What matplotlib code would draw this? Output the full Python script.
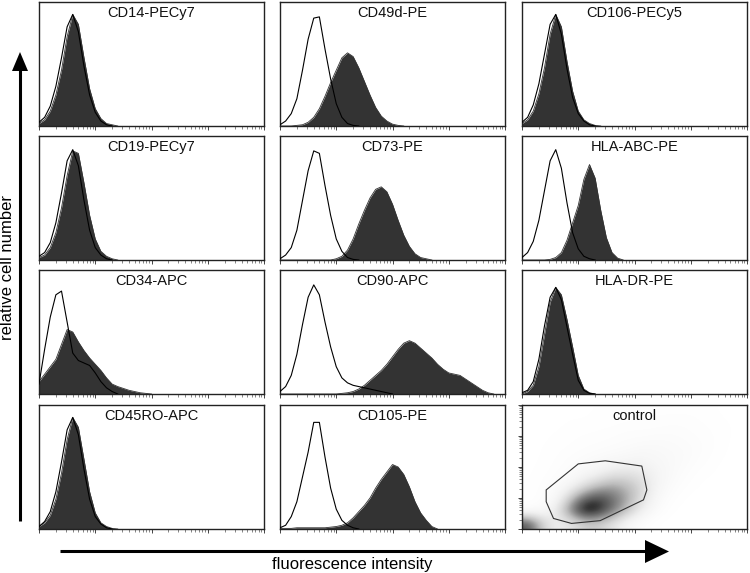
import numpy as np
import matplotlib
matplotlib.use("Agg")
import matplotlib.pyplot as plt
from matplotlib.patches import Polygon
from matplotlib.colors import PowerNorm

plt.rcParams['font.family'] = ['Liberation Sans', 'DejaVu Sans']

# ---------------- data ----------------
# sample positions on the log fluorescence axis (decades)
LOG_X = [0.0, 0.1, 0.2, 0.3, 0.4, 0.5, 0.6, 0.7, 0.8, 0.9,
         1.0, 1.1, 1.2, 1.3, 1.4, 1.5, 1.6, 1.7, 1.8, 1.9,
         2.0, 2.1, 2.2, 2.3, 2.4, 2.5, 2.6, 2.7, 2.8, 2.9,
         3.0, 3.1, 3.2, 3.3, 3.4, 3.5, 3.6, 3.7, 3.8, 3.9, 4.0]

titles = ["CD14-PECy7", "CD49d-PE", "CD106-PECy5",
          "CD19-PECy7", "CD73-PE", "HLA-ABC-PE",
          "CD34-APC", "CD90-APC", "HLA-DR-PE",
          "CD45RO-APC", "CD105-PE", "control"]

# relative cell number (fraction of panel height), stained (filled) and isotype (open)
cd14_stain = [0.02, 0.05, 0.12, 0.25, 0.45, 0.72, 0.90, 0.82, 0.55, 0.30, 0.14, 0.06, 0.02, 0.01, 0]
cd14_iso = [0.03, 0.07, 0.16, 0.32, 0.55, 0.80, 0.90, 0.76, 0.48, 0.25, 0.11, 0.04, 0.01, 0]

cd49d_stain = [0, 0, 0, 0.005, 0.01, 0.03, 0.07, 0.14, 0.24, 0.35, 0.45, 0.55, 0.59, 0.56, 0.47,
               0.36, 0.25, 0.15, 0.08, 0.04, 0.015, 0.005, 0]
cd49d_iso = [0.01, 0.04, 0.10, 0.22, 0.45, 0.70, 0.87, 0.88, 0.62, 0.38, 0.18, 0.07, 0.02, 0.005, 0]

cd106_stain = [0.02, 0.05, 0.12, 0.26, 0.47, 0.74, 0.90, 0.80, 0.52, 0.28, 0.12, 0.05, 0.02, 0.005, 0]
cd106_iso = [0.03, 0.07, 0.17, 0.34, 0.58, 0.82, 0.90, 0.74, 0.46, 0.23, 0.10, 0.04, 0.01, 0]

cd19_stain = [0.02, 0.04, 0.10, 0.22, 0.42, 0.68, 0.88, 0.86, 0.62, 0.36, 0.17, 0.07, 0.03, 0.01, 0]
cd19_iso = [0.03, 0.06, 0.14, 0.30, 0.54, 0.80, 0.89, 0.76, 0.48, 0.24, 0.10, 0.04, 0.01, 0]

cd73_stain = [0, 0, 0, 0, 0, 0, 0, 0, 0, 0, 0.01, 0.03, 0.08, 0.17, 0.29, 0.40, 0.50, 0.57, 0.59,
              0.55, 0.45, 0.32, 0.20, 0.11, 0.05, 0.02, 0.01, 0]
cd73_iso = [0.01, 0.04, 0.10, 0.24, 0.48, 0.72, 0.88, 0.86, 0.60, 0.36, 0.17, 0.07, 0.02, 0.005, 0]

hlaabc_stain = [0, 0, 0, 0, 0, 0.005, 0.02, 0.06, 0.16, 0.30, 0.44, 0.65, 0.77, 0.66, 0.40,
                0.18, 0.06, 0.015, 0]
hlaabc_iso = [0.02, 0.06, 0.15, 0.32, 0.56, 0.80, 0.89, 0.74, 0.46, 0.22, 0.09, 0.03, 0.01, 0]

cd34_stain = [0.10, 0.16, 0.22, 0.28, 0.40, 0.52, 0.50, 0.42, 0.35, 0.29, 0.24, 0.19, 0.13,
              0.08, 0.06, 0.045, 0.03, 0.02, 0.01, 0.005, 0]
cd34_iso = [0.08, 0.36, 0.62, 0.80, 0.83, 0.58, 0.33, 0.27, 0.25, 0.23, 0.17, 0.10, 0.05, 0.02, 0]

cd90_stain = [0, 0, 0, 0, 0, 0, 0, 0, 0, 0, 0, 0.005, 0.01, 0.02, 0.04, 0.07, 0.11, 0.15, 0.19,
              0.24, 0.30, 0.36, 0.41, 0.43, 0.41, 0.37, 0.33, 0.29, 0.24, 0.20, 0.17, 0.16, 0.15,
              0.12, 0.09, 0.06, 0.03, 0.01, 0]
cd90_iso = [0.02, 0.06, 0.15, 0.32, 0.56, 0.78, 0.88, 0.80, 0.58, 0.38, 0.22, 0.13, 0.09, 0.07,
            0.06, 0.05, 0.04, 0.03, 0.02, 0.01, 0]

hladr_stain = [0, 0.02, 0.07, 0.22, 0.48, 0.74, 0.86, 0.80, 0.60, 0.38, 0.15, 0.04, 0.01, 0]
hladr_iso = [0.01, 0.03, 0.10, 0.28, 0.55, 0.78, 0.86, 0.76, 0.54, 0.32, 0.11, 0.03, 0.005, 0]

cd45ro_stain = [0.02, 0.05, 0.11, 0.24, 0.45, 0.72, 0.90, 0.82, 0.56, 0.30, 0.13, 0.05, 0.02, 0.005, 0]
cd45ro_iso = [0.02, 0.06, 0.14, 0.30, 0.54, 0.80, 0.90, 0.76, 0.48, 0.24, 0.10, 0.04, 0.01, 0]

cd105_stain = [0.005, 0.005, 0.005, 0.01, 0.01, 0.01, 0.01, 0.01, 0.01, 0.015, 0.02, 0.03, 0.05,
               0.09, 0.14, 0.19, 0.25, 0.33, 0.40, 0.46, 0.52, 0.50, 0.44, 0.34, 0.22, 0.13,
               0.07, 0.02, 0]
cd105_iso = [0.01, 0.03, 0.10, 0.22, 0.42, 0.62, 0.86, 0.86, 0.58, 0.33, 0.16, 0.07, 0.03, 0.01, 0]

stained = [cd14_stain, cd49d_stain, cd106_stain, cd19_stain, cd73_stain, hlaabc_stain,
           cd34_stain, cd90_stain, hladr_stain, cd45ro_stain, cd105_stain]
isotype = [cd14_iso, cd49d_iso, cd106_iso, cd19_iso, cd73_iso, hlaabc_iso,
           cd34_iso, cd90_iso, hladr_iso, cd45ro_iso, cd105_iso]

# control dot-plot: event density per cell (rows bottom->top, 16 columns over 4 decades)
control_density = [
    [0.70, 0.35, 0.18, 0.25, 0.35, 0.35, 0.25, 0.12, 0.05, 0.02, 0, 0, 0, 0, 0, 0],
    [0.05, 0.08, 0.25, 0.60, 0.88, 0.80, 0.60, 0.40, 0.20, 0.08, 0.03, 0, 0, 0, 0, 0],
    [0.02, 0.05, 0.12, 0.40, 0.65, 0.72, 0.62, 0.48, 0.30, 0.12, 0.05, 0.02, 0, 0, 0, 0],
    [0.02, 0.04, 0.08, 0.15, 0.30, 0.42, 0.48, 0.42, 0.32, 0.16, 0.08, 0.04, 0.02, 0, 0, 0],
    [0.01, 0.03, 0.05, 0.08, 0.12, 0.18, 0.25, 0.27, 0.24, 0.16, 0.10, 0.06, 0.03, 0.02, 0, 0],
    [0.01, 0.02, 0.04, 0.06, 0.08, 0.10, 0.12, 0.14, 0.15, 0.12, 0.10, 0.08, 0.05, 0.03, 0.01, 0],
    [0, 0.02, 0.03, 0.04, 0.05, 0.06, 0.07, 0.08, 0.10, 0.10, 0.09, 0.08, 0.06, 0.04, 0.02, 0],
    [0, 0.01, 0.02, 0.03, 0.04, 0.04, 0.05, 0.06, 0.06, 0.07, 0.07, 0.06, 0.05, 0.04, 0.02, 0.01],
    [0, 0.01, 0.01, 0.02, 0.02, 0.03, 0.03, 0.04, 0.04, 0.04, 0.05, 0.05, 0.04, 0.03, 0.02, 0.01],
    [0, 0, 0.01, 0.01, 0.01, 0.02, 0.02, 0.02, 0.03, 0.03, 0.03, 0.03, 0.03, 0.02, 0.01, 0],
]
# gate polygon on the control plot (decades)
gate_x = [0.43, 1.00, 1.48, 2.13, 2.22, 2.16, 1.39, 0.88, 0.56, 0.43]
gate_y = [1.26, 2.10, 2.20, 2.03, 1.26, 0.94, 0.27, 0.18, 0.34, 0.88]

# ---------------- layout ----------------
W, H = 750, 573
fig = plt.figure(figsize=(W / 100, H / 100), dpi=100)

col_left = [39, 280, 522]
row_top = [2, 136, 270, 405]
pw, ph = 225, 124

major = [0, 1, 2, 3, 4]
minor = [d + np.log10(k) for d in range(4) for k in range(2, 10)]
fill_col = '#333333'


def make_ax(r, c):
    l, t = col_left[c], row_top[r]
    ax = fig.add_axes([l / W, 1 - (t + ph) / H, pw / W, ph / H])
    ax.set_xlim(0, 4)
    for s in ax.spines.values():
        s.set_linewidth(1.0)
        s.set_color('#222222')
    ax.set_xticks(major)
    ax.set_xticks(minor, minor=True)
    ax.tick_params(axis='x', which='major', length=3, width=0.7, direction='out',
                   labelbottom=False, color='#444444')
    ax.tick_params(axis='x', which='minor', length=2, width=0.5, direction='out',
                   color='#555555')
    return ax


for i in range(12):
    r, c = divmod(i, 3)
    ax = make_ax(r, c)
    if i < 11:
        ys = stained[i]
        yi = isotype[i]
        ax.fill_between(LOG_X[:len(ys)], ys, 0, color=fill_col, lw=0, zorder=2)
        ax.plot(LOG_X[:len(ys)], ys, color=fill_col, lw=0.6, zorder=2)
        ax.plot(LOG_X[:len(yi)], yi, color='black', lw=0.8, zorder=3)
        ax.set_ylim(0, 1)
        ax.set_yticks([])
    else:
        ax.set_ylim(0, 4)
        dens = np.array(control_density)
        ax.imshow(dens, origin='lower', extent=[0, 4, 0, 4], cmap='Greys',
                  norm=PowerNorm(gamma=1.4, vmin=0, vmax=0.85), interpolation='bicubic',
                  aspect='auto', zorder=1)
        ax.add_patch(Polygon(list(zip(gate_x, gate_y)), closed=True, fill=False,
                             ec='#333333', lw=0.8, zorder=3))
        ax.set_yticks(major)
        ax.set_yticks(minor, minor=True)
        ax.tick_params(axis='y', which='major', length=3, width=0.7, direction='out',
                       labelleft=False, color='#444444')
        ax.tick_params(axis='y', which='minor', length=2, width=0.5, direction='out',
                       color='#555555')
    ax.text(0.5, 0.965, titles[i], transform=ax.transAxes, ha='center', va='top',
            fontsize=10.5, color='#111111', zorder=5)

# ---------------- arrows & axis labels ----------------
ov = fig.add_axes([0, 0, 1, 1], zorder=-1)
ov.set_xlim(0, W)
ov.set_ylim(H, 0)
ov.axis('off')
ov.plot([20, 20], [521, 68], color='black', lw=2.2, solid_capstyle='butt')
ov.add_patch(Polygon([(12, 71), (28, 71), (20, 52)], closed=True, fc='black', ec='none'))
ov.plot([60, 647], [551, 551], color='black', lw=2.2, solid_capstyle='butt')
ov.add_patch(Polygon([(645, 540), (645, 563), (669, 551.5)], closed=True, fc='black', ec='none'))
ov.text(8, 268, 'relative cell number', rotation=90, ha='center', va='center', fontsize=12)
ov.text(352, 564, 'fluorescence intensity', ha='center', va='center', fontsize=12)

fig.savefig('out.png', dpi=100)
